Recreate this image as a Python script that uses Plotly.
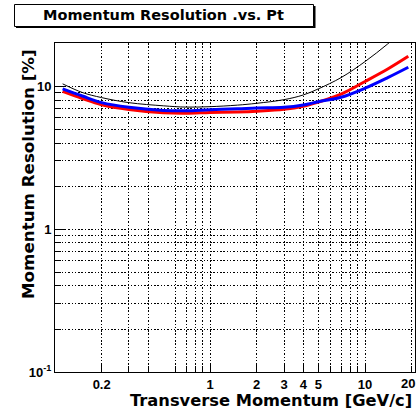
import plotly.graph_objects as go

# Transverse momentum sample points [GeV/c]
pt = [0.112, 0.15, 0.2, 0.3, 0.5, 0.7, 1, 1.5, 2, 3, 4, 5, 7, 10, 14, 19]

# Momentum resolution [%] for the three configurations
res_black = [10.4, 9.05, 8.33, 7.68, 7.3, 7.15, 7.2, 7.38, 7.6, 8.06, 8.7, 9.6, 11.5, 14.9, 19.8, 26.4]
res_red = [9.2, 8.2, 7.43, 6.88, 6.52, 6.47, 6.56, 6.62, 6.7, 6.9, 7.25, 7.75, 8.8, 10.8, 13.2, 16.2]
res_blue = [9.6, 8.55, 7.68, 7.12, 6.78, 6.74, 6.86, 6.95, 7.05, 7.12, 7.4, 7.8, 8.38, 9.7, 11.5, 13.6]

# Axis ticks
x_major = [0.2, 1, 2, 3, 4, 5, 10]
x_major_text = ["0.2", "1", "2", "3", "4", "5", "10"]
x_edge = 20
x_edge_text = "20"
x_minor = [0.3, 0.4, 0.6, 0.7, 0.8, 0.9, 6, 7, 8, 9, 20]
y_major = [0.1, 1, 10]
y_major_text = ["10<sup>-1</sup>", "1", "10"]
y_minor = [0.2, 0.3, 0.4, 0.5, 0.6, 0.7, 0.8, 0.9, 2, 3, 4, 5, 6, 7, 8, 9]

W, H = 418, 410
L, R, T, B = 55, 3, 43, 38
PW, PH = W - L - R, H - T - B


def px(x):
    return (x - L) / PW


def py(y):
    return (H - B - y) / PH


DOT = "1.5px,1.8px"
tick_font = dict(family="Liberation Sans", size=13, color="black", weight="bold")

fig = go.Figure()
fig.add_trace(go.Scatter(x=pt, y=res_black, mode="lines", line=dict(color="black", width=1, shape="spline")))
fig.add_trace(go.Scatter(x=pt, y=res_red, mode="lines", line=dict(color="#ff0000", width=3, shape="spline")))
fig.add_trace(go.Scatter(x=pt, y=res_blue, mode="lines", line=dict(color="#0000ff", width=3, shape="spline")))

fig.update_xaxes(
    type="log", range=[-1, 1.322],
    tickmode="array", tickvals=x_major, ticktext=x_major_text,
    ticks="inside", ticklen=7, tickcolor="black", tickwidth=1,
    showgrid=True, gridcolor="black", gridwidth=1, griddash=DOT,
    minor=dict(tickvals=x_minor, ticks="inside", ticklen=4, tickcolor="black",
               showgrid=True, gridcolor="black", gridwidth=1, griddash=DOT),
    showline=True, mirror=True, linecolor="black", linewidth=1,
    zeroline=False, tickfont=tick_font,
)
fig.update_yaxes(
    type="log", range=[-1, 1.303],
    tickmode="array", tickvals=y_major, ticktext=y_major_text,
    ticks="inside", ticklen=11, tickcolor="black", tickwidth=1,
    showgrid=True, gridcolor="black", gridwidth=1, griddash=DOT,
    minor=dict(tickvals=y_minor, ticks="inside", ticklen=6, tickcolor="black",
               showgrid=True, gridcolor="black", gridwidth=1, griddash=DOT),
    showline=True, mirror=True, linecolor="black", linewidth=1,
    zeroline=False, tickfont=tick_font,
)
# The label at the right edge is shifted inwards so it stays on the page
fig.add_annotation(text=x_edge_text, xref="paper", yref="paper",
                   x=px(407.5), y=py(383.5), xanchor="center", yanchor="middle",
                   showarrow=False, font=tick_font)

# Title box with a drop shadow
fig.add_shape(type="rect", xref="paper", yref="paper",
              x0=px(16), x1=px(315.5), y0=py(6), y1=py(28),
              fillcolor="black", line=dict(width=0), layer="above")
fig.add_shape(type="rect", xref="paper", yref="paper",
              x0=px(14.5), x1=px(313.5), y0=py(4.5), y1=py(26.5),
              fillcolor="white", line=dict(color="black", width=1), layer="above")

title_font = dict(family="DejaVu Sans", color="black", weight="bold")
fig.add_annotation(text="Momentum Resolution .vs. Pt", xref="paper", yref="paper",
                   x=px(163), y=py(15.5), xanchor="center", yanchor="middle",
                   showarrow=False, font=dict(size=14.5, **title_font))
fig.add_annotation(text="Transverse Momentum [GeV/c]", xref="paper", yref="paper",
                   x=px(414), y=py(400.5), xanchor="right", yanchor="middle",
                   showarrow=False, font=dict(size=16.3, **title_font))
fig.add_annotation(text="Momentum Resolution [%]", xref="paper", yref="paper",
                   x=px(28), y=py(47), xanchor="center", yanchor="top", textangle=-90,
                   showarrow=False, font=dict(size=16.7, **title_font))

fig.update_layout(
    width=W, height=H, autosize=False,
    margin=dict(l=L, r=R, t=T, b=B, pad=0),
    paper_bgcolor="white", plot_bgcolor="white",
    showlegend=False,
)

fig.write_html("out.html")
